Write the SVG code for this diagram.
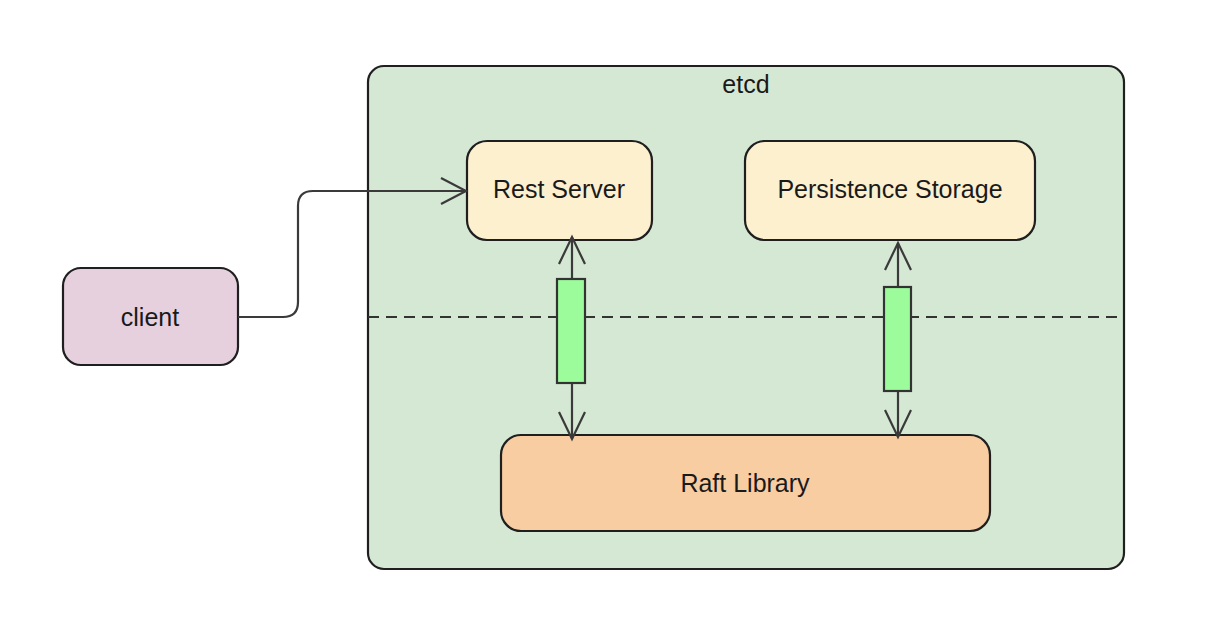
<svg xmlns="http://www.w3.org/2000/svg" width="1224" height="638" viewBox="0 0 1224 638">
<style>
.box{stroke:#1f1f1f;stroke-width:2.2}
.lbl{font-family:"Liberation Sans",Arial,sans-serif;font-size:25px;fill:#1a1a1a;text-anchor:middle}
.conn{fill:none;stroke:#3a3a3a;stroke-width:2.2}
.head{fill:none;stroke:#3a3a3a;stroke-width:2.2;stroke-linejoin:miter}
.bar{fill:#9cfc9c;stroke:#333;stroke-width:2.2}
</style>
<rect width="1224" height="638" fill="#ffffff"/>
<g id="etcd">
<rect class="box" x="368" y="66" width="756" height="503" rx="16" fill="#d5e8d4"/>
<text class="lbl" x="746" y="93">etcd</text>
<line x1="368" y1="317" x2="1124" y2="317" stroke="#333" stroke-width="2.2" stroke-dasharray="11 7"/>
</g>
<g id="client">
<rect class="box" x="63" y="268" width="175" height="97" rx="18" fill="#e6d0de"/>
<text class="lbl" x="150" y="326">client</text>
</g>
<g id="rest-server">
<rect class="box" x="467" y="141" width="185" height="99" rx="20" fill="#fcf0cf"/>
<text class="lbl" x="559" y="198">Rest Server</text>
</g>
<g id="persistence-storage">
<rect class="box" x="745" y="141" width="290" height="99" rx="20" fill="#fcf0cf"/>
<text class="lbl" x="890" y="198">Persistence Storage</text>
</g>
<g id="raft-library">
<rect class="box" x="501" y="435" width="489" height="96" rx="20" fill="#f8cda2"/>
<text class="lbl" x="745" y="492">Raft Library</text>
</g>
<g id="connectors">
<path class="conn" d="M238 317 H283 Q298 317 298 302 V206 Q298 191 313 191 H466"/>
<path class="head" d="M441 178 L466 191 L441 204"/>
<line class="conn" x1="572" y1="237" x2="572" y2="439"/>
<path class="head" d="M559 264 L572 237 L585 264"/>
<path class="head" d="M559 412 L572 439 L585 412"/>
<rect class="bar" x="557" y="279" width="28" height="104"/>
<line class="conn" x1="898" y1="243" x2="898" y2="437"/>
<path class="head" d="M885 270 L898 243 L911 270"/>
<path class="head" d="M885 410 L898 437 L911 410"/>
<rect class="bar" x="884" y="287" width="27" height="104"/>
</g>
</svg>
